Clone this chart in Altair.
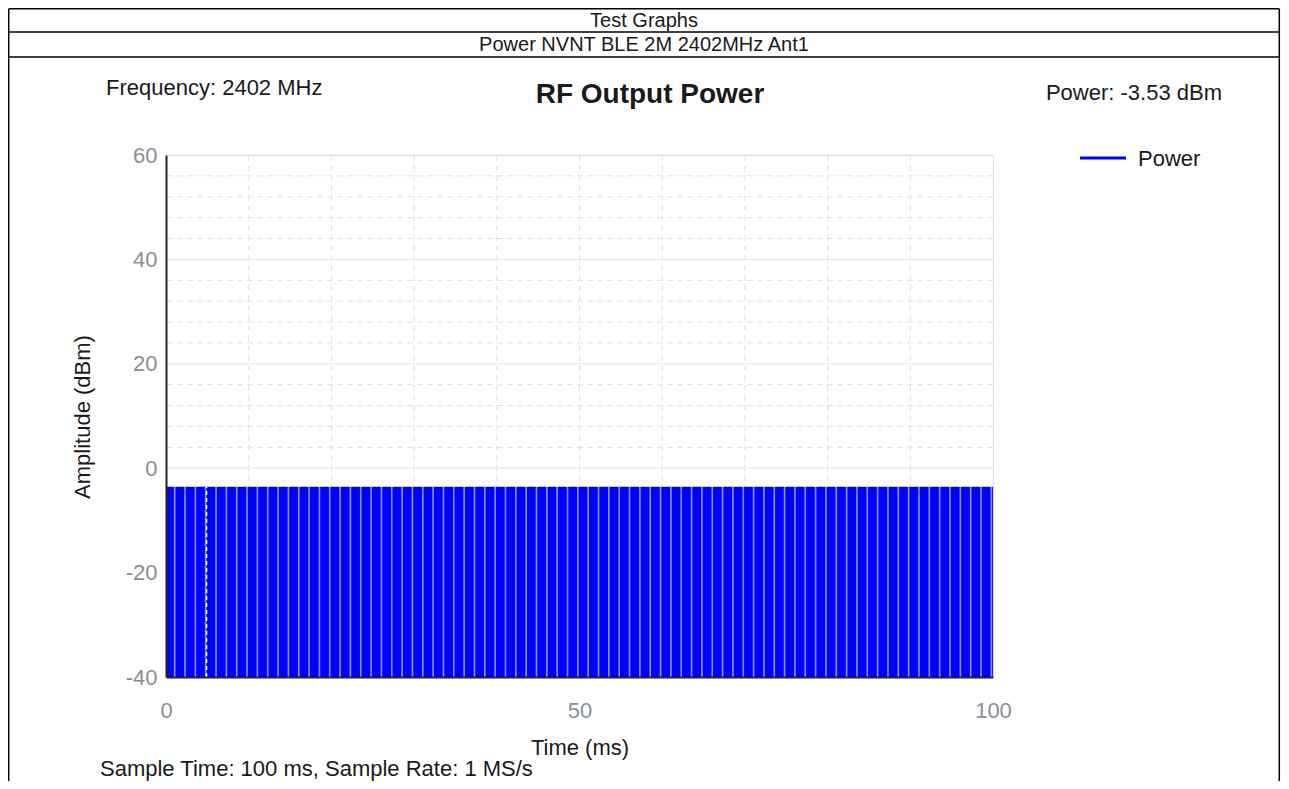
import altair as alt
import pandas as pd

# ---- data ----
x_ticks = [0, 50, 100]
y_ticks = [-40, -20, 0, 20, 40, 60]
y_minor = [-36, -32, -28, -24, -16, -12, -8, -4, 4, 8, 12, 16, 24, 28, 32, 36, 44, 48, 52, 56]
x_grid = [10, 20, 30, 40, 50, 60, 70, 80, 90]
power_level = -3.53
floor_level = -40
burst_start = [0]
burst_end = [100]
gap_start = [0.95, 2.2, 3.45, 4.7, 5.95, 7.2, 8.45, 9.7, 10.95, 12.2, 13.45, 14.7, 15.95, 17.2,
             18.45, 19.7, 20.95, 22.2, 23.45, 24.7, 25.95, 27.2, 28.45, 29.7, 30.95, 32.2, 33.45,
             34.7, 35.95, 37.2, 38.45, 39.7, 40.95, 42.2, 43.45, 44.7, 45.95, 47.2, 48.45, 49.7,
             50.95, 52.2, 53.45, 54.7, 55.95, 57.2, 58.45, 59.7, 60.95, 62.2, 63.45, 64.7, 65.95,
             67.2, 68.45, 69.7, 70.95, 72.2, 73.45, 74.7, 75.95, 77.2, 78.45, 79.7, 80.95, 82.2,
             83.45, 84.7, 85.95, 87.2, 88.45, 89.7, 90.95, 92.2, 93.45, 94.7, 95.95, 97.2, 98.45, 99.7]
gap_width = 0.2
marker_time = [4.9]

FONT = "Liberation Sans"
W, H = 827, 522

xs = alt.Scale(domain=[0, 100], nice=False, zero=False)
ys = alt.Scale(domain=[-40, 60], nice=False, zero=False)

one = pd.DataFrame({"a": [0]})

def label(text, x, y, size=22, align="left", weight="normal", angle=0, color="#1a1a1a"):
    return alt.Chart(pd.DataFrame({"t": [text]})).mark_text(
        align=align, baseline="middle", fontSize=size, font=FONT,
        fontWeight=weight, angle=angle, color=color
    ).encode(text="t:N", x=alt.value(x), y=alt.value(y))

def hline(y, x1, x2, color="black", w=1.5):
    return alt.Chart(one).mark_rule(color=color, strokeWidth=w).encode(
        x=alt.value(x1), x2=alt.value(x2), y=alt.value(y))

def vline(x, y1, y2, color="black", w=1.5):
    return alt.Chart(one).mark_rule(color=color, strokeWidth=w).encode(
        x=alt.value(x), y=alt.value(y1), y2=alt.value(y2))

# grid
minor = alt.Chart(pd.DataFrame({"v": y_minor})).mark_rule(
    color="#e0e0e0", strokeWidth=1, strokeDash=[6, 4]).encode(y=alt.Y("v:Q", scale=ys))
major = alt.Chart(pd.DataFrame({"v": y_ticks})).mark_rule(
    color="#e4e4e4", strokeWidth=1).encode(y=alt.Y("v:Q", scale=ys))
vgrid = alt.Chart(pd.DataFrame({"v": x_grid})).mark_rule(
    color="#e0e0e0", strokeWidth=1, strokeDash=[6, 4]).encode(x=alt.X("v:Q", scale=xs))

# signal
sig = alt.Chart(pd.DataFrame({"s": burst_start, "e": burst_end,
                              "lo": [floor_level], "hi": [power_level]})).mark_rect(
    color="#0000ff").encode(
    x=alt.X("s:Q", scale=xs,
            axis=alt.Axis(values=x_ticks, title=None, grid=False, ticks=False, tickSize=0,
                          labelFontSize=22, labelFont=FONT, labelColor="#8a8f98",
                          labelPadding=33, labelBaseline="middle", labelFlush=False,
                          labelExpr="toString(datum.value)",
                          domainColor="#222222", domainWidth=2, zindex=1)),
    x2="e:Q",
    y=alt.Y("lo:Q", scale=ys,
            axis=alt.Axis(values=y_ticks, title=None, grid=False, ticks=False, tickSize=0,
                          labelFontSize=22, labelFont=FONT, labelColor="#8a8f98",
                          labelPadding=9, labelFlush=False,
                          labelExpr="toString(datum.value)",
                          domainColor="#222222", domainWidth=2, zindex=1)),
    y2="hi:Q")

gdf = pd.DataFrame({"g": gap_start})
gdf["g2"] = gdf["g"] + gap_width
gdf["lo"] = floor_level
gdf["hi"] = power_level
gaps = alt.Chart(gdf).mark_rect(color="white", opacity=0.55).encode(
    x=alt.X("g:Q", scale=xs), x2="g2:Q",
    y=alt.Y("lo:Q", scale=ys), y2="hi:Q")

mdf = pd.DataFrame({"t": marker_time, "lo": [floor_level], "hi": [power_level]})
marker = alt.Chart(mdf).mark_rule(color="white", strokeWidth=1.5, strokeDash=[4, 3]).encode(
    x=alt.X("t:Q", scale=xs), y=alt.Y("lo:Q", scale=ys), y2="hi:Q")

# table frame (page origin of plot = 166,155; canvas origin = 8,8)
frame = [
    hline(-146.3, -157.3, 1113.3), hline(-123, -157.3, 1113.3), hline(-98, -157.3, 1113.3),
    vline(-157.3, -146.3, 640), vline(1113.3, -146.3, 640),
]

texts = [
    label("Test Graphs", 478, -134.5, size=20, align="center"),
    label("Power NVNT BLE 2M 2402MHz Ant1", 478, -110, size=20, align="center"),
    label("Frequency: 2402 MHz", -60, -67, size=22),
    label("RF Output Power", 484, -60, size=28, align="center", weight="bold"),
    label("Power: -3.53 dBm", 1056, -62, size=22, align="right"),
    label("Power", 972, 4, size=22),
    label("Amplitude (dBm)", -83, 262, size=22, align="center", angle=270),
    label("Time (ms)", 414, 593, size=22, align="center"),
    label("Sample Time: 100 ms,  Sample Rate: 1 MS/s", -66, 614, size=22),
]

legend_line = alt.Chart(one).mark_rule(color="#0000ff", strokeWidth=3).encode(
    x=alt.value(914), x2=alt.value(960), y=alt.value(3))

chart = alt.layer(minor, major, vgrid, sig, gaps, marker, legend_line, *frame, *texts).properties(
    width=W, height=H,
    autosize=alt.AutoSizeParams(type="none"),
    padding={"left": 158, "top": 147, "right": 288, "bottom": 104},
).configure_view(stroke="#d0d0d0", strokeWidth=1).configure(background="white")

chart.save("out.html", embed_options={"renderer": "svg", "actions": False})
